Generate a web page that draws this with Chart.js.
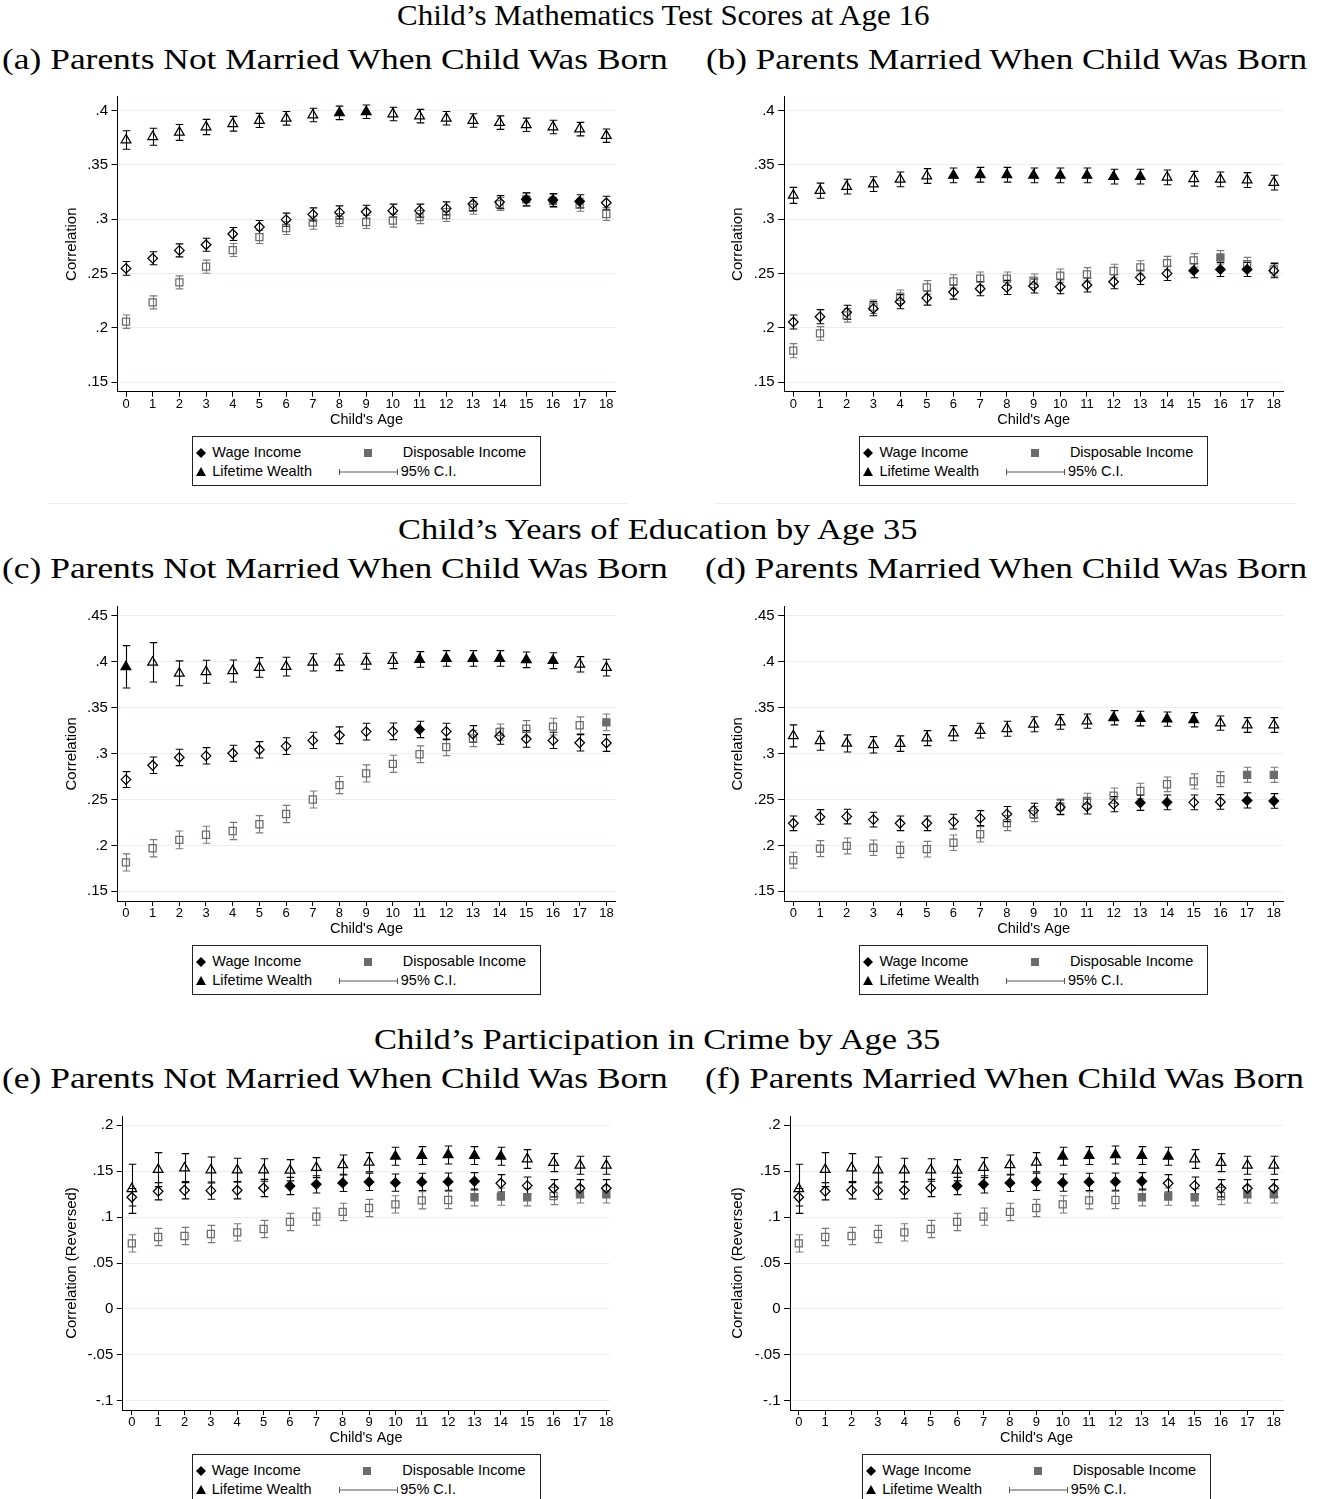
<!DOCTYPE html>
<html><head><meta charset="utf-8">
<script src="https://cdn.jsdelivr.net/npm/chart.js@4.4.1/dist/chart.umd.min.js"></script>
<style>
html,body{margin:0;padding:0;background:#fff;}
body{width:1327px;height:1499px;position:relative;overflow:hidden;}
.t{position:absolute;white-space:nowrap;font-family:'Liberation Serif','DejaVu Serif',serif;font-size:30px;line-height:30px;color:#000;transform-origin:0 0;}
.t.h{font-size:29px;}
canvas{position:absolute;}
.lg{position:absolute;border:1px solid #222;box-sizing:border-box;width:349px;height:50px;font-family:'Liberation Sans',Arial,sans-serif;font-size:14.5px;color:#000;background:#fff;}
.lg span{position:absolute;line-height:16px;white-space:nowrap;}
.lg svg{position:absolute;overflow:visible;}
.rule{position:absolute;height:1px;background:#ededed;}
</style></head><body>
<script>
// ---------------- DATA ----------------
const ages = [0,1,2,3,4,5,6,7,8,9,10,11,12,13,14,15,16,17,18];
const yTicksMath  = [0.15,0.2,0.25,0.3,0.35,0.4];
const yTicksEdu   = [0.15,0.2,0.25,0.3,0.35,0.4,0.45];
const yTicksCrime = [-0.1,-0.05,0,0.05,0.1,0.15,0.2];
const seriesNames = ['Wage Income','Disposable Income','Lifetime Wealth','95% C.I.'];
const headings = ['Child\u2019s Mathematics Test Scores at Age 16','Child\u2019s Years of Education by Age 35','Child\u2019s Participation in Crime by Age 35'];
const subTitles = ['(a) Parents Not Married When Child Was Born','(b) Parents Married When Child Was Born',
  '(c) Parents Not Married When Child Was Born','(d) Parents Married When Child Was Born',
  '(e) Parents Not Married When Child Was Born','(f) Parents Married When Child Was Born'];
const xTitle = "Child's Age";
const yTitles = ['Correlation','Correlation','Correlation','Correlation','Correlation (Reversed)','Correlation (Reversed)'];

// Panel (a)
const wageA   = [.2547,.2640,.2713,.2765,.2864,.2928,.2996,.3045,.3063,.3069,.3079,.3079,.3100,.3140,.3158,.3183,.3177,.3165,.3152];
const wageCiA = [.0063,.0060,.0060,.0060,.0060,.0060,.0060,.0060,.0060,.0060,.0060,.0060,.0060,.0060,.0060,.0060,.0060,.0060,.0060];
const dispA   = [.2056,.2234,.2418,.2563,.2716,.2836,.2919,.2968,.2993,.2974,.2987,.3020,.3039,.3106,.3140,.3183,.3168,.3134,.3048];
const dispCiA = [.0062,.0060,.0060,.0060,.0060,.0060,.0060,.0060,.0060,.0060,.0060,.0060,.0060,.0060,.0060,.0060,.0060,.0060,.0060];
const wlthA   = [.3730,.3760,.3800,.3850,.3880,.3910,.3930,.3960,.3980,.3990,.3970,.3950,.3930,.3910,.3890,.3870,.3850,.3830,.3770];
const wlthCiA = [.0085,.0078,.0073,.0070,.0068,.0065,.0063,.0062,.0062,.0062,.0062,.0062,.0062,.0062,.0062,.0062,.0062,.0062,.0062];
const fillWageA = [15,16,17], fillDispA = [15,16], fillWlthA = [8,9];

// Panel (b)
const wageB   = [.2053,.2102,.2142,.2176,.2240,.2274,.2329,.2360,.2372,.2385,.2378,.2394,.2424,.2464,.2501,.2526,.2538,.2538,.2526];
const wageCiB = [.0065,.0065,.0065,.0065,.0065,.0065,.0065,.0065,.0065,.0065,.0065,.0065,.0065,.0065,.0065,.0065,.0065,.0065,.0065];
const dispB   = [.1789,.1948,.2114,.2194,.2286,.2372,.2427,.2452,.2452,.2433,.2480,.2492,.2523,.2556,.2596,.2621,.2649,.2587,.2538];
const dispCiB = [.0065,.0063,.0062,.0062,.0062,.0062,.0062,.0062,.0062,.0062,.0062,.0062,.0062,.0062,.0062,.0062,.0062,.0062,.0062];
const wlthB   = [.3220,.3263,.3300,.3324,.3367,.3398,.3404,.3410,.3410,.3404,.3404,.3404,.3392,.3392,.3386,.3373,.3367,.3361,.3337];
const wlthCiB = [.0074,.0070,.0068,.0068,.0068,.0068,.0068,.0068,.0068,.0068,.0068,.0068,.0068,.0068,.0068,.0068,.0068,.0068,.0068];
const fillWageB = [15,16,17], fillDispB = [16], fillWlthB = [6,7,8,9,10,11,12,13];

// Panel (c)
const wageC   = [.2717,.2873,.2958,.2976,.3004,.3042,.3082,.3144,.3200,.3240,.3243,.3263,.3242,.3214,.3189,.3160,.3144,.3118,.3116];
const wageCiC = [.0087,.0090,.0089,.0089,.0088,.0089,.0091,.0089,.0091,.0091,.0091,.0089,.0089,.0091,.0087,.0091,.0089,.0089,.0091];
const dispC   = [.1814,.1969,.2060,.2116,.2157,.2230,.2342,.2500,.2657,.2784,.2889,.2993,.3071,.3165,.3234,.3271,.3294,.3309,.3341];
const dispCiC = [.0093,.0094,.0096,.0093,.0094,.0094,.0094,.0093,.0093,.0093,.0093,.0091,.0093,.0089,.0089,.0089,.0091,.0091,.0091];
const wlthC   = [.3946,.3995,.3875,.3892,.3901,.3939,.3948,.3995,.3995,.4006,.4013,.4026,.4037,.4037,.4037,.4022,.4013,.3973,.3937];
const wlthCiC = [.0231,.0214,.0136,.0125,.0120,.0107,.0102,.0094,.0091,.0087,.0087,.0085,.0085,.0085,.0085,.0085,.0087,.0084,.0091];
const fillWageC = [11], fillDispC = [18], fillWlthC = [0,11,12,13,14,15,16];

// Panel (d)
const wageD   = [.2241,.2310,.2314,.2281,.2241,.2241,.2259,.2297,.2341,.2379,.2415,.2424,.2449,.2464,.2469,.2469,.2473,.2490,.2484];
const wageCiD = [.0080,.0080,.0080,.0080,.0080,.0080,.0080,.0082,.0082,.0080,.0080,.0082,.0082,.0082,.0080,.0080,.0080,.0082,.0080];
const dispD   = [.1838,.1965,.1994,.1974,.1952,.1959,.2029,.2121,.2243,.2341,.2424,.2486,.2542,.2593,.2666,.2697,.2722,.2769,.2769];
const dispCiD = [.0087,.0087,.0087,.0085,.0085,.0085,.0085,.0084,.0082,.0082,.0082,.0082,.0084,.0084,.0080,.0082,.0082,.0082,.0082];
const wlthD   = [.3193,.3140,.3111,.3096,.3109,.3169,.3223,.3251,.3271,.3320,.3345,.3354,.3391,.3382,.3376,.3369,.3332,.3312,.3312];
const wlthCiD = [.0120,.0103,.0093,.0089,.0084,.0082,.0082,.0080,.0082,.0082,.0080,.0078,.0078,.0080,.0078,.0078,.0078,.0080,.0080];
const fillWageD = [13,14,17,18], fillDispD = [17,18], fillWlthD = [12,13,14,15];

// Panel (e)
const wageE   = [.1216,.1281,.1292,.1288,.1292,.1317,.1339,.1357,.1372,.1383,.1375,.1383,.1386,.1390,.1368,.1343,.1314,.1314,.1314];
const wageCiE = [.0095,.0094,.0094,.0094,.0094,.0094,.0094,.0094,.0094,.0094,.0094,.0094,.0094,.0094,.0094,.0094,.0094,.0094,.0094];
const dispE   = [.0714,.0783,.0794,.0816,.0834,.0870,.0947,.1005,.1056,.1099,.1139,.1183,.1186,.1216,.1223,.1216,.1230,.1248,.1248];
const dispCiE = [.0094,.0094,.0094,.0094,.0094,.0094,.0094,.0094,.0094,.0094,.0094,.0094,.0094,.0094,.0094,.0094,.0094,.0094,.0094];
const wlthE   = [.1308,.1517,.1533,.1513,.1512,.1513,.1510,.1539,.1568,.1597,.1662,.1670,.1677,.1670,.1662,.1633,.1593,.1564,.1564];
const wlthCiE = [.0267,.0185,.0158,.0142,.0129,.0123,.0116,.0109,.0109,.0105,.0098,.0098,.0098,.0098,.0098,.0102,.0098,.0098,.0098];
const fillWageE = [6,7,8,9,10,11,12,13], fillDispE = [13,14,15,17,18], fillWlthE = [10,11,12,13,14];

// Panel (f)
const wageF   = [.1216,.1281,.1292,.1288,.1292,.1317,.1339,.1357,.1372,.1383,.1375,.1383,.1386,.1390,.1368,.1343,.1314,.1314,.1314];
const wageCiF = [.0095,.0094,.0094,.0094,.0094,.0094,.0094,.0094,.0094,.0094,.0094,.0094,.0094,.0094,.0094,.0094,.0094,.0094,.0094];
const dispF   = [.0714,.0783,.0794,.0816,.0834,.0870,.0947,.1005,.1056,.1099,.1139,.1183,.1186,.1216,.1223,.1216,.1230,.1248,.1248];
const dispCiF = [.0094,.0094,.0094,.0094,.0094,.0094,.0094,.0094,.0094,.0094,.0094,.0094,.0094,.0094,.0094,.0094,.0094,.0094,.0094];
const wlthF   = [.1308,.1517,.1533,.1513,.1512,.1513,.1510,.1539,.1568,.1597,.1662,.1670,.1677,.1670,.1662,.1633,.1593,.1564,.1564];
const wlthCiF = [.0267,.0185,.0158,.0142,.0129,.0123,.0116,.0109,.0109,.0105,.0098,.0098,.0098,.0098,.0098,.0102,.0098,.0098,.0098];
const fillWageF = [6,7,8,9,10,11,12,13], fillDispF = [13,14,15,17,18], fillWlthF = [10,11,12,13,14];

// ---------------- LAYOUT (page pixels) ----------------
const layout = [
  {L:117.5,R:615.5,T:96.7, B:391.7,titleX:71.5, xmin:-0.319,xmax:18.345,ymin:0.1411,ymax:0.4129},
  {L:784.2,R:1283, T:96.7, B:391.7,titleX:737.5,xmin:-0.341,xmax:18.345,ymin:0.1411,ymax:0.4129},
  {L:117.4,R:615.6,T:606.7,B:901,  titleX:71.5, xmin:-0.319,xmax:18.345,ymin:0.1394,ymax:0.4601},
  {L:784.2,R:1283, T:606.7,B:901,  titleX:737.5,xmin:-0.341,xmax:18.345,ymin:0.1394,ymax:0.4601},
  {L:122.8,R:609.2,T:1116, B:1410, titleX:71.5, xmin:-0.341,xmax:18.11, ymin:-0.1101,ymax:0.2101},
  {L:790,  R:1283, T:1116, B:1410, titleX:737.5,xmin:-0.333,xmax:18.35, ymin:-0.1101,ymax:0.2101}
];
const headingY = [17, 531, 1041];
const headingCx = [663, 657, 657];
const headingW = [532, 519, 566];
const subY = [61, 570, 1080];
const subX = [2, 706, 2, 705, 2, 705];
const subW = [666, 601, 666, 602, 666, 599];

const panels = [
  {wage:wageA,wageCi:wageCiA,disp:dispA,dispCi:dispCiA,wlth:wlthA,wlthCi:wlthCiA,fw:fillWageA,fd:fillDispA,ft:fillWlthA,yt:yTicksMath},
  {wage:wageB,wageCi:wageCiB,disp:dispB,dispCi:dispCiB,wlth:wlthB,wlthCi:wlthCiB,fw:fillWageB,fd:fillDispB,ft:fillWlthB,yt:yTicksMath},
  {wage:wageC,wageCi:wageCiC,disp:dispC,dispCi:dispCiC,wlth:wlthC,wlthCi:wlthCiC,fw:fillWageC,fd:fillDispC,ft:fillWlthC,yt:yTicksEdu},
  {wage:wageD,wageCi:wageCiD,disp:dispD,dispCi:dispCiD,wlth:wlthD,wlthCi:wlthCiD,fw:fillWageD,fd:fillDispD,ft:fillWlthD,yt:yTicksEdu},
  {wage:wageE,wageCi:wageCiE,disp:dispE,dispCi:dispCiE,wlth:wlthE,wlthCi:wlthCiE,fw:fillWageE,fd:fillDispE,ft:fillWlthE,yt:yTicksCrime},
  {wage:wageF,wageCi:wageCiF,disp:dispF,dispCi:dispCiF,wlth:wlthF,wlthCi:wlthCiF,fw:fillWageF,fd:fillDispF,ft:fillWlthF,yt:yTicksCrime}
];

const BLACK = '#000000', GRAY = '#6b6b6b', GRAYCI = '#7a7a7a', CLEAR = 'rgba(0,0,0,0)';
Chart.defaults.font.family = "'Liberation Sans', Arial, sans-serif";
Chart.defaults.color = '#000';

function fmt(v){ const s = String(+(+v).toFixed(2)); return s.replace(/^(-?)0\./,'$1.'); }

const ciPlugin = {
  id: 'ciBars',
  beforeDatasetsDraw(chart) {
    const {ctx, scales:{x, y}} = chart;
    [2,1,0].forEach(i => {
      const ds = chart.data.datasets[i];
      ctx.save();
      ctx.strokeStyle = ds.ciColor; ctx.lineWidth = 1.1;
      ds.data.forEach((p, j) => {
        const hw = ds.ci[j];
        const px = Math.round(x.getPixelForValue(p.x)) + 0.5;
        const y1 = y.getPixelForValue(p.y + hw), y2 = y.getPixelForValue(p.y - hw);
        const cap = 3.8;
        ctx.beginPath();
        ctx.moveTo(px, y1); ctx.lineTo(px, y2);
        ctx.moveTo(px - cap, y1); ctx.lineTo(px + cap, y1);
        ctx.moveTo(px - cap, y2); ctx.lineTo(px + cap, y2);
        ctx.stroke();
      });
      ctx.restore();
    });
  }
};

function fills(filled, color){ return ages.map(a => filled.includes(a) ? color : CLEAR); }
function pts(vals){ return ages.map((a,i) => ({x:a, y:vals[i]})); }

function makePanel(idx){
  const g = layout[idx], p = panels[idx];
  const CL = Math.round(g.titleX - 17), CT = Math.round(g.T - 20);
  const CW = Math.round(g.R + 20 - CL), CH = Math.round(g.B + 38.3 - CT);
  const yw = g.L - CL, padTop = g.T - CT, padRight = CL + CW - g.R, xh = CT + CH - g.B;
  const cv = document.createElement('canvas');
  cv.width = CW; cv.height = CH;
  cv.style.left = CL + 'px'; cv.style.top = CT + 'px';
  cv.style.width = CW + 'px'; cv.style.height = CH + 'px';
  document.body.appendChild(cv);
  new Chart(cv, {
    type: 'scatter',
    data: { datasets: [
      {label: seriesNames[0], data: pts(p.wage), ci: p.wageCi, ciColor: BLACK, pointStyle: 'rectRot', pointRadius: 4.8,
       pointBorderColor: BLACK, pointBorderWidth: 1.25, pointBackgroundColor: fills(p.fw, BLACK), showLine: false, clip: false},
      {label: seriesNames[1], data: pts(p.disp), ci: p.dispCi, ciColor: GRAYCI, pointStyle: 'rect', pointRadius: 5.0,
       pointBorderColor: GRAY, pointBorderWidth: 1.25, pointBackgroundColor: fills(p.fd, GRAY), showLine: false, clip: false},
      {label: seriesNames[2], data: pts(p.wlth), ci: p.wlthCi, ciColor: BLACK, pointStyle: 'triangle', pointRadius: 5.6,
       pointBorderColor: BLACK, pointBorderWidth: 1.25, pointBackgroundColor: fills(p.ft, BLACK), showLine: false, clip: false}
    ]},
    options: {
      responsive: false, animation: false, devicePixelRatio: 1,
      layout: { padding: {top: padTop, right: padRight, left: 0, bottom: 0} },
      plugins: { legend: {display: false}, tooltip: {enabled: false} },
      events: [],
      scales: {
        x: {
          type: 'linear', min: g.xmin, max: g.xmax, bounds: 'data',
          afterBuildTicks: s => { s.ticks = ages.map(v => ({value: v})); },
          afterFit: s => { s.height = xh; },
          ticks: {autoSkip: false, maxRotation: 0, padding: 0, font: {size: 13}, color: '#000', callback: v => String(v)},
          grid: {drawOnChartArea: false, drawTicks: true, tickLength: 5, tickColor: '#000', color: '#000'},
          border: {display: true, color: '#000', width: 1},
          title: {display: true, text: xTitle, font: {size: 14.5}, color: '#000', padding: {top: 0, bottom: 1.8}}
        },
        y: {
          type: 'linear', min: g.ymin, max: g.ymax, bounds: 'data',
          afterBuildTicks: s => { s.ticks = p.yt.map(v => ({value: v})); },
          afterFit: s => { s.width = yw; },
          ticks: {autoSkip: false, padding: 3.5, font: {size: 15}, color: '#000', callback: v => fmt(v)},
          grid: {drawOnChartArea: true, drawTicks: true, tickLength: 6, tickColor: '#000', color: '#e5eef0', lineWidth: 1},
          border: {display: true, color: '#000', width: 1},
          title: {display: true, text: yTitles[idx], font: {size: 15}, color: '#000', padding: {top: 8, bottom: 0}}
        }
      }
    },
    plugins: [ciPlugin]
  });
  makeLegend((g.L + g.R) / 2 - 174.2, g.B + 44.3);
}

function makeLegend(left, top){
  const d = document.createElement('div');
  d.className = 'lg'; d.style.left = left + 'px'; d.style.top = top + 'px';
  const r1 = 15.5, r2 = 34.5;
  d.innerHTML =
    `<svg style="left:3px;top:${r1-5}px" width="10" height="10"><polygon points="5,0 10,5 5,10 0,5" fill="#000"/></svg>` +
    `<span style="left:19px;top:${r1-8.5}px">${seriesNames[0]}</span>` +
    `<svg style="left:${174.4-4}px;top:${r1-4}px" width="8" height="8"><rect x="0" y="0" width="8" height="8" fill="${GRAY}"/></svg>` +
    `<span style="left:209.5px;top:${r1-8.5}px">${seriesNames[1]}</span>` +
    `<svg style="left:3px;top:${r2-5}px" width="10" height="9"><polygon points="5,0 10,9 0,9" fill="#000"/></svg>` +
    `<span style="left:19px;top:${r2-8.5}px">${seriesNames[2]}</span>` +
    `<svg style="left:146px;top:${r2-4}px" width="60" height="8"><path d="M0.5,1 V7 M0.5,4 H58.5 M58.5,1 V7" stroke="#555" stroke-width="1" fill="none"/></svg>` +
    `<span style="left:207.5px;top:${r2-8.5}px">${seriesNames[3]}</span>`;
  document.body.appendChild(d);
}

function addText(txt, x, cy, extra){
  const e = document.createElement('div');
  e.className = 't' + (extra ? ' ' + extra : ''); e.textContent = txt;
  e.style.left = x + 'px'; e.style.top = (cy - 17.4) + 'px';
  document.body.appendChild(e);
  return e;
}

for (let i = 0; i < 6; i++) makePanel(i);

// faint separators under the first row of panels
[[48,628],[715,1295]].forEach(([a,b]) => {
  const r = document.createElement('div'); r.className = 'rule';
  r.style.left = a + 'px'; r.style.width = (b - a) + 'px'; r.style.top = '503px';
  document.body.appendChild(r);
});

const heads = headings.map((h, i) => addText(h, 0, headingY[i], 'h'));
const subs = subTitles.map((s, i) => addText(s, subX[i], subY[Math.floor(i/2)]));
function fitTitles(){
  subs.forEach((e, i) => { const k = subW[i] / e.offsetWidth; e.style.transform = `scaleX(${k})`; });
  heads.forEach((e, i) => {
    const k = headingW[i] / e.offsetWidth;
    e.style.left = (headingCx[i] - headingW[i] / 2) + 'px';
    e.style.transform = `scaleX(${k})`;
  });
}
fitTitles();
if (document.fonts && document.fonts.ready) document.fonts.ready.then(fitTitles);
</script>
</body></html>
